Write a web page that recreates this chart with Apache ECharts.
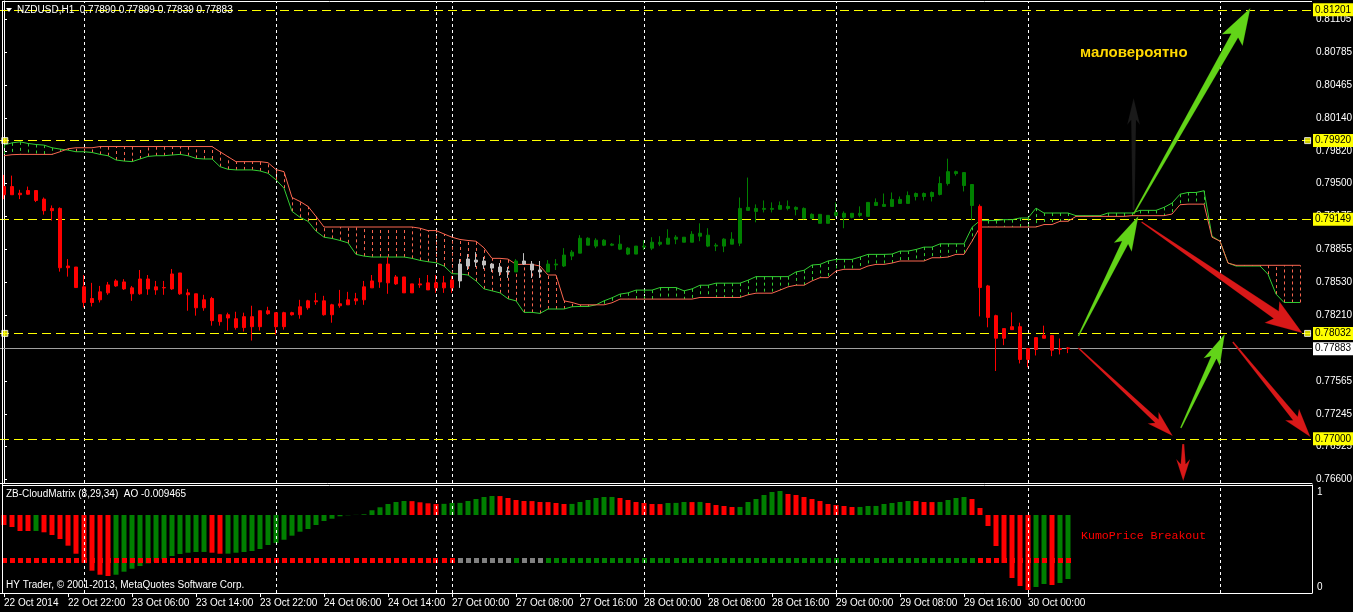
<!DOCTYPE html>
<html><head><meta charset="utf-8">
<script src="https://cdn.jsdelivr.net/npm/echarts@6/dist/echarts.min.js"></script>
<style>html,body{margin:0;padding:0;background:#000;}#c{width:1353px;height:612px;}</style>
</head><body><div id="c"></div>
<script>
// ---------- DATA ----------
const symbolTitle = 'NZDUSD,H1  0.77890 0.77899 0.77839 0.77883';
const indicatorTitle = 'ZB-CloudMatrix (8,29,34)  AO -0.009465';
const footerText = 'HY Trader, \u00A9 2001-2013, MetaQuotes Software Corp.';
const noteText = '\u043C\u0430\u043B\u043E\u0432\u0435\u0440\u043E\u044F\u0442\u043D\u043E';
const kumoText = 'KumoPrice Breakout';

// trading sessions (day, first hour, last hour) -> hourly bar categories
const sessions = [['22 Oct',14,23],['23 Oct',0,23],['24 Oct',0,19],['26 Oct',22,23],['27 Oct',0,23],['28 Oct',0,23],['29 Oct',0,23],['30 Oct',0,23],['31 Oct',0,11]];
const tickLabels = ['22 Oct 2014','22 Oct 22:00','23 Oct 06:00','23 Oct 14:00','23 Oct 22:00','24 Oct 06:00','24 Oct 14:00','27 Oct 00:00','27 Oct 08:00','27 Oct 16:00','28 Oct 00:00','28 Oct 08:00','28 Oct 16:00','29 Oct 00:00','29 Oct 08:00','29 Oct 16:00','30 Oct 00:00'];
const priceTicks = [0.76600,0.76925,0.77245,0.77565,0.78210,0.78530,0.78855,0.79175,0.79500,0.79820,0.80140,0.80465,0.80785,0.81105];
const levelValues = [0.81201,0.79920,0.79149,0.78032,0.77000];
const bidPrice = 0.77883;

// OHLC as [open, close, low, high]
const candles = [
[0.79390,0.79470,0.79347,0.79584],[0.79470,0.79390,0.79390,0.79577],[0.79390,0.79405,0.79347,0.79438],[0.79395,0.79431,0.79390,0.79470],[0.79431,0.79334,0.79318,0.79431],
[0.79347,0.79234,0.79195,0.79363],[0.79234,0.79256,0.79137,0.79285],[0.79256,0.78675,0.78637,0.79266],[0.78675,0.78692,0.78588,0.78760],[0.78682,0.78481,0.78481,0.78682],
[0.78488,0.78335,0.78286,0.78604],[0.78335,0.78374,0.78296,0.78527],[0.78361,0.78439,0.78335,0.78497],[0.78429,0.78507,0.78410,0.78536],[0.78497,0.78546,0.78488,0.78563],
[0.78536,0.78468,0.78458,0.78563],[0.78478,0.78420,0.78351,0.78497],[0.78420,0.78565,0.78410,0.78653],[0.78565,0.78468,0.78410,0.78604],[0.78458,0.78488,0.78410,0.78546],
[0.78481,0.78478,0.78410,0.78546],[0.78468,0.78614,0.78458,0.78663],[0.78624,0.78420,0.78410,0.78624],[0.78429,0.78410,0.78254,0.78468],[0.78420,0.78283,0.78206,0.78420],
[0.78283,0.78361,0.78254,0.78410],[0.78374,0.78157,0.78108,0.78390],[0.78147,0.78215,0.78108,0.78215],[0.78215,0.78183,0.78060,0.78235],[0.78176,0.78089,0.78069,0.78244],
[0.78089,0.78196,0.78050,0.78235],[0.78196,0.78098,0.77962,0.78303],[0.78098,0.78254,0.78060,0.78254],[0.78254,0.78225,0.78215,0.78293],[0.78235,0.78098,0.78021,0.78235],
[0.78098,0.78235,0.78069,0.78244],[0.78235,0.78215,0.78206,0.78244],[0.78215,0.78293,0.78176,0.78361],[0.78283,0.78351,0.78264,0.78361],[0.78351,0.78342,0.78312,0.78429],
[0.78351,0.78215,0.78206,0.78400],[0.78215,0.78312,0.78137,0.78322],[0.78303,0.78322,0.78283,0.78458],[0.78312,0.78361,0.78312,0.78439],[0.78351,0.78371,0.78312,0.78429],
[0.78361,0.78488,0.78312,0.78546],[0.78478,0.78546,0.78478,0.78604],[0.78536,0.78711,0.78478,0.78711],[0.78711,0.78527,0.78420,0.78780],[0.78517,0.78585,0.78507,0.78604],
[0.78585,0.78429,0.78429,0.78585],[0.78429,0.78517,0.78429,0.78517],[0.78517,0.78507,0.78478,0.78575],[0.78458,0.78527,0.78458,0.78604],[0.78527,0.78478,0.78429,0.78604],
[0.78478,0.78527,0.78429,0.78595],[0.78478,0.78556,0.78429,0.78595],[0.78546,0.78711,0.78478,0.78760],[0.78692,0.78760,0.78653,0.78809],[0.78750,0.78731,0.78682,0.78828],
[0.78741,0.78702,0.78663,0.78780],[0.78711,0.78672,0.78634,0.78721],[0.78682,0.78634,0.78595,0.78721],[0.78634,0.78643,0.78575,0.78682],[0.78634,0.78741,0.78634,0.78760],
[0.78741,0.78711,0.78702,0.78818],[0.78711,0.78653,0.78575,0.78741],[0.78653,0.78634,0.78575,0.78741],[0.78634,0.78711,0.78634,0.78750],[0.78711,0.78702,0.78653,0.78760],
[0.78692,0.78799,0.78682,0.78867],[0.78789,0.78828,0.78750,0.78848],[0.78818,0.78964,0.78818,0.78994],[0.78964,0.78896,0.78896,0.78974],[0.78887,0.78945,0.78867,0.78964],
[0.78945,0.78896,0.78887,0.78955],[0.78896,0.78906,0.78887,0.78916],[0.78906,0.78857,0.78848,0.78994],[0.78867,0.78809,0.78799,0.78877],[0.78809,0.78887,0.78809,0.78887],
[0.78887,0.78877,0.78848,0.78945],[0.78867,0.78925,0.78848,0.78974],[0.78925,0.78906,0.78887,0.78984],[0.78906,0.78964,0.78906,0.79052],[0.78955,0.78974,0.78906,0.78994],
[0.78974,0.78925,0.78925,0.78974],[0.78925,0.79003,0.78925,0.79033],[0.78984,0.79013,0.78935,0.79110],[0.78994,0.78887,0.78877,0.79062],[0.78887,0.78896,0.78838,0.78916],
[0.78887,0.78955,0.78828,0.78964],[0.78955,0.78906,0.78906,0.79023],[0.78916,0.79256,0.78887,0.79363],[0.79237,0.79266,0.79237,0.79558],[0.79256,0.79227,0.79120,0.79295],
[0.79247,0.79256,0.79217,0.79334],[0.79256,0.79247,0.79217,0.79315],[0.79247,0.79285,0.79247,0.79324],[0.79276,0.79256,0.79237,0.79334],[0.79266,0.79247,0.79188,0.79276],
[0.79256,0.79159,0.79149,0.79266],[0.79198,0.79159,0.79149,0.79208],[0.79198,0.79110,0.79110,0.79198],[0.79110,0.79188,0.79110,0.79188],[0.79188,0.79217,0.79169,0.79315],
[0.79208,0.79169,0.79062,0.79227],[0.79169,0.79208,0.79159,0.79208],[0.79208,0.79188,0.79169,0.79276],[0.79178,0.79315,0.79178,0.79315],[0.79285,0.79315,0.79285,0.79354],
[0.79295,0.79276,0.79276,0.79402],[0.79276,0.79344,0.79276,0.79412],[0.79344,0.79305,0.79305,0.79373],[0.79305,0.79383,0.79305,0.79422],[0.79373,0.79402,0.79334,0.79412],
[0.79402,0.79373,0.79334,0.79412],[0.79373,0.79412,0.79324,0.79422],[0.79393,0.79500,0.79383,0.79568],[0.79500,0.79616,0.79480,0.79743],[0.79597,0.79616,0.79577,0.79626],
[0.79607,0.79480,0.79422,0.79607],[0.79490,0.79285,0.79140,0.79490],[0.79276,0.78481,0.78199,0.79295],[0.78497,0.78189,0.78092,0.78507],[0.78206,0.77985,0.77664,0.78215],
[0.77985,0.78079,0.77917,0.78079],[0.78069,0.78098,0.78069,0.78238],[0.78098,0.77777,0.77738,0.78137],[0.77777,0.77884,0.77700,0.77884],[0.77875,0.77991,0.77816,0.77991],
[0.77985,0.78011,0.77985,0.78108],[0.78011,0.77868,0.77809,0.78011],[0.77875,0.77884,0.77826,0.77982],[0.77890,0.77883,0.77839,0.77899]
];

// CloudMatrix state per bar: r = below cloud, n = inside cloud, g = above cloud
const barState = ('rrrrrrrrrr'+'rrrrrrrrrr'+'rrrrrrrrrr'+'rrrrrrrrrr'+'rrrrrrrrrr'+'rrrrrrr'+'nnnnnnn'+'g'+'nnn'+
  'gggggggggg'+'gggggggggg'+'gggggggggg'+'gggggggggg'+'gggggggggg'+'gggg'+'rrrrrrrrrr'+'rr').split('');

// Senkou span A (green) and B (red), shifted forward
const senkouA = [
0.79876,0.79898,0.79908,0.79892,0.79882,0.79876,0.79850,0.79837,0.79827,0.79811,
0.79811,0.79804,0.79785,0.79772,0.79730,0.79720,0.79714,0.79740,0.79765,0.79772,
0.79772,0.79779,0.79785,0.79772,0.79746,0.79740,0.79740,0.79665,0.79639,0.79633,
0.79633,0.79633,0.79623,0.79600,0.79536,0.79454,0.79227,0.79169,0.79130,0.79033,
0.78974,0.78962,0.78942,0.78919,0.78806,0.78789,0.78780,0.78780,0.78780,0.78780,
0.78780,0.78767,0.78747,0.78734,0.78724,0.78692,0.78617,0.78614,0.78604,0.78546,
0.78468,0.78449,0.78429,0.78371,0.78351,0.78238,0.78238,0.78228,0.78271,0.78271,
0.78271,0.78293,0.78296,0.78296,0.78312,0.78351,0.78381,0.78417,0.78429,0.78456,
0.78456,0.78456,0.78481,0.78481,0.78481,0.78449,0.78468,0.78504,0.78504,0.78524,
0.78524,0.78524,0.78524,0.78553,0.78588,0.78588,0.78588,0.78588,0.78588,0.78634,
0.78650,0.78702,0.78708,0.78741,0.78757,0.78757,0.78757,0.78780,0.78806,0.78806,
0.78806,0.78809,0.78838,0.78838,0.78854,0.78877,0.78877,0.78909,0.78909,0.78909,
0.78909,0.79071,0.79137,0.79137,0.79137,0.79146,0.79146,0.79162,0.79162,0.79259,
0.79211,0.79211,0.79211,0.79211,0.79185,0.79185,0.79185,0.79185,0.79211,0.79211,
0.79211,0.79211,0.79237,0.79237,0.79237,0.79266,0.79308,0.79395,0.79412,0.79412,
0.79429,0.78984,0.78935,0.78721,0.78692,0.78692,0.78692,0.78692,0.78611,0.78417,
0.78335,0.78335,0.78335
];
const senkouB = [
0.79772,0.79782,0.79785,0.79785,0.79785,0.79785,0.79785,0.79811,0.79840,0.79850,
0.79850,0.79850,0.79862,0.79862,0.79862,0.79862,0.79862,0.79862,0.79862,0.79862,
0.79862,0.79862,0.79862,0.79862,0.79862,0.79862,0.79862,0.79811,0.79762,0.79714,
0.79714,0.79714,0.79714,0.79704,0.79636,0.79616,0.79363,0.79324,0.79276,0.79178,
0.79074,0.79074,0.79074,0.79074,0.79074,0.79074,0.79074,0.79074,0.79074,0.79074,
0.79074,0.79074,0.79062,0.79039,0.79039,0.79006,0.78974,0.78952,0.78942,0.78935,
0.78870,0.78767,0.78767,0.78760,0.78708,0.78708,0.78708,0.78692,0.78604,0.78604,
0.78351,0.78335,0.78312,0.78312,0.78312,0.78312,0.78332,0.78368,0.78368,0.78368,
0.78368,0.78368,0.78368,0.78368,0.78368,0.78368,0.78368,0.78384,0.78384,0.78384,
0.78384,0.78384,0.78384,0.78410,0.78426,0.78426,0.78426,0.78456,0.78488,0.78504,
0.78504,0.78546,0.78578,0.78578,0.78643,0.78660,0.78660,0.78660,0.78692,0.78708,
0.78708,0.78721,0.78741,0.78741,0.78741,0.78741,0.78773,0.78773,0.78780,0.78806,
0.78806,0.78935,0.79074,0.79074,0.79074,0.79074,0.79074,0.79074,0.79074,0.79074,
0.79098,0.79098,0.79130,0.79130,0.79178,0.79178,0.79178,0.79178,0.79178,0.79178,
0.79178,0.79185,0.79185,0.79185,0.79185,0.79185,0.79201,0.79292,0.79298,0.79298,
0.79298,0.78974,0.78935,0.78721,0.78699,0.78699,0.78699,0.78699,0.78699,0.78699,
0.78699,0.78699,0.78699
];

// Awesome Oscillator histogram
const aoValues = [
-0.00148,-0.00178,-0.00237,-0.00237,-0.00236,-0.00256,-0.00296,-0.00355,-0.00454,-0.00573,
-0.00710,-0.00824,-0.00884,-0.00903,-0.00884,-0.00839,-0.00795,-0.00755,-0.00715,-0.00691,
-0.00656,-0.00607,-0.00577,-0.00558,-0.00548,-0.00547,-0.00558,-0.00573,-0.00572,-0.00558,
-0.00548,-0.00533,-0.00503,-0.00444,-0.00414,-0.00366,-0.00306,-0.00247,-0.00207,-0.00148,
-0.00089,-0.00055,-0.00019,-0.00004,0.00002,0.00010,0.00070,0.00114,0.00163,0.00192,
0.00207,0.00205,0.00188,0.00173,0.00163,0.00165,0.00178,0.00179,0.00207,0.00237,
0.00266,0.00281,0.00280,0.00252,0.00222,0.00207,0.00206,0.00192,0.00191,0.00178,
0.00163,0.00164,0.00192,0.00222,0.00252,0.00266,0.00267,0.00252,0.00222,0.00192,
0.00178,0.00163,0.00162,0.00178,0.00179,0.00192,0.00191,0.00193,0.00178,0.00148,
0.00133,0.00118,0.00119,0.00192,0.00237,0.00296,0.00340,0.00355,0.00311,0.00296,
0.00266,0.00237,0.00207,0.00163,0.00148,0.00133,0.00118,0.00119,0.00133,0.00134,
0.00163,0.00178,0.00192,0.00207,0.00206,0.00192,0.00191,0.00193,0.00222,0.00252,
0.00266,0.00237,0.00104,-0.00163,-0.00459,-0.00710,-0.00932,-0.01051,-0.01110,-0.01066,
-0.01021,-0.01036,-0.01006,-0.00947
];
const aoColorCodes = ('rrrrgrrrrr'+'rrrrgggggg'+'ggggggrrgg'+'gggggggggg'+'gggggggggg'+'grrrrggggg'+'ggrrrrrrrr'+
  'rggggggrrr'+'rrrgggrgrr'+'rrggggggrr'+'rrrrrrrggg'+'ggggrrrggg'+'grrrrrrrrg'+'grgg').split('');
const signalLevel = -0.00676;

// hand-drawn arrows: [x1(bar), price1, x2(bar), price2]  (tail -> head)
const arrowSegments = [
[141.2,0.79201,155.8,0.81219],
[134.3,0.78007,141.8,0.79182],
[147.1,0.77106,152.6,0.78026],
[142.2,0.79123,162.3,0.78036],
[134.3,0.77889,146.1,0.77027],
[153.6,0.77948,163.3,0.77018],
[147.4,0.76949,147.4,0.76587],
[141.2,0.79240,141.2,0.80337]
];
const selectedLevels = [0.79920,0.78032];

// ---------- STYLES ----------
const FONT = 'Liberation Sans';
const stateColor = {r:'#FF0000', g:'#008000', n:'#C0C0C0'};
const dotColor = {r:'#FF0000', g:'#008000', n:'#808080'};
const aoColor = {r:'#FF0000', g:'#008000'};
const spanAColor = '#32CD32', spanBColor = '#FA6650';
const arrowStyles = [
 {fill:'#62D418', head:32, width:24, shaft:8, tail:1.5},
 {fill:'#62D418', head:30, width:20, shaft:7, tail:1.5},
 {fill:'#62D418', head:26, width:18, shaft:6, tail:1.5},
 {fill:'#D81818', head:32, width:26, shaft:9, tail:1.5},
 {fill:'#D81818', head:22, width:16, shaft:5, tail:1.5},
 {fill:'#D81818', head:24, width:18, shaft:6, tail:1.5},
 {fill:'#D81818', head:17, width:14, shaft:5, tail:2},
 {fill:'#1A1A1A', head:22, width:13, shaft:5, tail:2}
];

// ---------- BUILD ----------
const barTimes = [];
sessions.forEach(([d,h0,h1]) => { for (let h=h0; h<=h1; h++) barTimes.push(d+' '+String(h).padStart(2,'0')+':00'); });
const separators = [];
for (let i=1;i<barTimes.length;i++){ if (barTimes[i].slice(0,6)!==barTimes[i-1].slice(0,6)) separators.push(barTimes[i]); }

const candleData = candles.map((c,i)=>{const col=stateColor[barState[i]];return {value:c,itemStyle:{color:col,color0:col,borderColor:col,borderColor0:col,borderColorDoji:col}};});
const hatchData = senkouA.map((a,i)=>[i,a,senkouB[i]]);
const aoData = aoValues.map((v,i)=>({value:v,itemStyle:{color:aoColor[aoColorCodes[i]]}}));
const dotData = barState.map(s=>({value:signalLevel,itemStyle:{color:dotColor[s]}}));
const handleData = [];
selectedLevels.forEach(v=>{handleData.push([0.1,v]);handleData.push([162.95,v]);});

const sepLines = separators.map(t=>({xAxis:t,lineStyle:{color:'#FFFFFF',type:[3,3],width:1},label:{show:false}}));
const boxLabel = (txt,bg)=>({show:true,position:'end',distance:1,formatter:txt,color:'#000',backgroundColor:bg,padding:[2,3,1,2],fontSize:10,fontFamily:FONT});
const levelLines = levelValues.map(v=>({yAxis:v,lineStyle:{color:'#FFFF00',type:[9,5],width:1},label:boxLabel(v.toFixed(5),'#FFFF00')}));
levelLines.push({yAxis:bidPrice,lineStyle:{color:'#A0A0A0',type:'solid',width:1},label:boxLabel(bidPrice.toFixed(5),'#FFFFFF')});

function renderHatch(params, api){
  const i=api.value(0), a=api.value(1), b=api.value(2);
  const p1=api.coord([i,a]), p2=api.coord([i,b]);
  const x=Math.round(p1[0])+0.5;
  return {type:'line',shape:{x1:x,y1:p1[1],x2:x,y2:p2[1]},style:{stroke:a>=b?spanAColor:spanBColor,lineWidth:1,lineDash:[3,3]}};
}
function renderArrow(params, api){
  const p1=api.coord([api.value(0),api.value(1)]), p2=api.coord([api.value(2),api.value(3)]);
  const st=arrowStyles[params.dataIndex];
  const dx=p2[0]-p1[0], dy=p2[1]-p1[1], L=Math.hypot(dx,dy), ux=dx/L, uy=dy/L, nx=-uy, ny=ux;
  const bx=p2[0]-ux*st.head, by=p2[1]-uy*st.head, w=st.width/2, s=st.shaft/2, t=st.tail/2;
  const pts=[[p1[0]+nx*t,p1[1]+ny*t],[bx+nx*s,by+ny*s],[bx+nx*w-ux*5,by+ny*w-uy*5],[p2[0],p2[1]],[bx-nx*w-ux*5,by-ny*w-uy*5],[bx-nx*s,by-ny*s],[p1[0]-nx*t,p1[1]-ny*t]];
  return {type:'polygon',shape:{points:pts},style:{fill:st.fill,stroke:'rgba(0,0,0,0.35)',lineWidth:0.5}};
}
function renderDot(params, api){
  const p=api.coord([api.value(0),api.value(1)]);
  const x=Math.round(p[0]-2.5), y=Math.round(p[1]-2.5);
  return {type:'rect',shape:{x:x,y:y,width:5,height:5},style:{fill:dotColor[barState[params.dataIndex]]}};
}

const chart = echarts.init(document.getElementById('c'), null, {renderer:'canvas',width:1353,height:612});
const axisText = {color:'#FFFFFF',fontSize:10,fontFamily:FONT};
chart.setOption({
  backgroundColor:'#000000',
  animation:false,
  grid:[
    {left:0,right:41,top:1,bottom:129,containLabel:false,outerBoundsMode:'none'},
    {left:0,right:41,top:485,bottom:19,containLabel:false,outerBoundsMode:'none'}
  ],
  xAxis:[
    {type:'category',gridIndex:0,data:barTimes,boundaryGap:true,axisLine:{show:true,onZero:false,lineStyle:{color:'#FFFFFF',width:1}},axisTick:{show:false},axisLabel:{show:false},splitLine:{show:false}},
    {type:'category',gridIndex:1,data:barTimes,boundaryGap:true,axisLine:{show:true,onZero:false,lineStyle:{color:'#FFFFFF',width:1}},
      axisTick:{show:true,alignWithLabel:true,length:4,lineStyle:{color:'#FFFFFF'},interval:(i)=>i%8===0 && i/8<tickLabels.length},
      axisLabel:Object.assign({show:true,margin:5,align:'left',interval:(i)=>i%8===0 && i/8<tickLabels.length,formatter:(v,i)=>tickLabels[i/8]},axisText),splitLine:{show:false}},
    {type:'value',gridIndex:0,min:-0.5,max:163.5,show:false}
  ],
  yAxis:[
    {type:'value',gridIndex:0,position:'right',min:0.765672,max:0.812871,
      axisLine:{show:true,lineStyle:{color:'#FFFFFF'}},
      axisTick:{show:true,inside:false,length:3,lineStyle:{color:'#FFFFFF'},customValues:priceTicks},
      axisLabel:Object.assign({show:true,margin:4,customValues:priceTicks,formatter:(v)=>v.toFixed(5),padding:[0,0,4,0]},axisText),
      splitLine:{show:false}},
    {type:'value',gridIndex:1,min:-0.011544,max:0.00444,show:false},
    {type:'value',gridIndex:1,position:'right',min:-0.0558,max:1.0811,
      axisLine:{show:true,lineStyle:{color:'#FFFFFF'}},axisTick:{show:false},
      axisLabel:Object.assign({show:true,margin:5,customValues:[0,1],formatter:(v)=>String(Math.round(v))},axisText),splitLine:{show:false}}
  ],
  series:[
    {type:'custom',name:'cloud',xAxisIndex:0,yAxisIndex:0,data:hatchData,renderItem:renderHatch,encode:{x:0,y:[1,2]},z:1,silent:true},
    {type:'line',name:'Senkou A',xAxisIndex:0,yAxisIndex:0,data:senkouA,symbol:'none',lineStyle:{color:spanAColor,width:1},z:2,silent:true},
    {type:'line',name:'Senkou B',xAxisIndex:0,yAxisIndex:0,data:senkouB,symbol:'none',lineStyle:{color:spanBColor,width:1},z:2,silent:true},
    {type:'candlestick',name:'NZDUSD',xAxisIndex:0,yAxisIndex:0,data:candleData,barWidth:4,z:3,
      itemStyle:{borderWidth:1},
      markLine:{silent:true,symbol:'none',animation:false,z:1,data:sepLines}},
    {type:'scatter',name:'levels',xAxisIndex:2,yAxisIndex:0,data:handleData,symbol:'rect',symbolSize:6,
      itemStyle:{color:'#FFFF00',borderColor:'#FFFFFF',borderWidth:1},z:6,silent:true,
      markLine:{silent:true,symbol:'none',animation:false,precision:6,z:1,data:levelLines}},
    {type:'custom',name:'arrows',xAxisIndex:2,yAxisIndex:0,data:arrowSegments,renderItem:renderArrow,encode:{x:[0,2],y:[1,3]},z:8,silent:true,clip:false},
    {type:'bar',name:'AO',xAxisIndex:1,yAxisIndex:1,data:aoData,barWidth:5,z:3,
      markLine:{silent:true,symbol:'none',animation:false,data:sepLines}},
    {type:'custom',name:'signal',xAxisIndex:1,yAxisIndex:1,data:dotData.map((d,i)=>[i,d.value]),renderItem:renderDot,encode:{x:0,y:1},z:4,silent:true}
  ],
  graphic:[
    {type:'line',shape:{x1:2.5,y1:1,x2:2.5,y2:593},style:{stroke:'#FFFFFF',lineWidth:1},z:100},
    {type:'line',shape:{x1:2,y1:1.5,x2:1312,y2:1.5},style:{stroke:'#FFFFFF',lineWidth:1},z:100},
    {type:'line',shape:{x1:2,y1:485.5,x2:1312,y2:485.5},style:{stroke:'#FFFFFF',lineWidth:1},z:100},
    {type:'polygon',shape:{points:[[6,8],[12,8],[9,12]]},style:{fill:'#FFFFFF'},z:100},
    {type:'text',left:17,top:5,style:{text:symbolTitle,fill:'#FFFFFF',fontSize:10,fontFamily:FONT},z:100},
    {type:'text',left:6,top:489,style:{text:indicatorTitle,fill:'#FFFFFF',fontSize:10,fontFamily:FONT},z:100},
    {type:'text',left:6,top:580,style:{text:footerText,fill:'#FFFFFF',fontSize:10,fontFamily:FONT},z:100},
    {type:'text',left:1081,top:530,style:{text:kumoText,fill:'#FF0000',fontSize:11.6,fontFamily:'Liberation Mono'},z:100},
    {type:'text',left:1080,top:45,style:{text:noteText,fill:'#FFD800',fontSize:15,fontWeight:'bold',fontFamily:FONT},z:100}
  ]
});
</script></body></html>
